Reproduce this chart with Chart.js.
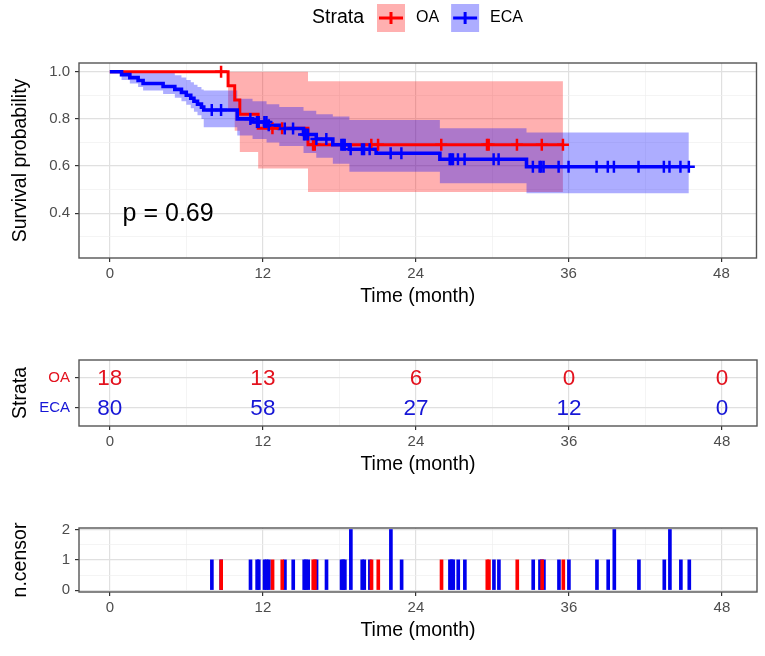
<!DOCTYPE html>
<html>
<head>
<meta charset="utf-8">
<script src="https://cdn.jsdelivr.net/npm/chart.js@4.4.1/dist/chart.umd.min.js"></script>
<style>
  body { margin: 0; background: #fff; }
  canvas { display: block; }
</style>
</head>
<body>
<canvas id="surv" width="765" height="310"></canvas>
<canvas id="risk" width="765" height="170"></canvas>
<canvas id="censor" width="765" height="176"></canvas>
<script>
// ---- data ----
const strataNames = ['OA', 'ECA'];

// OA survival step curve with confidence band
const oaTime  = [0, 9.28, 9.8, 10.2, 11.64, 15.55, 35.56];
const oaSurv  = [1.0, 0.94, 0.88, 0.82, 0.76, 0.69, 0.69];
const oaLower = [1.0, 0.83, 0.75, 0.66, 0.59, 0.49, 0.49];
const oaUpper = [1.0, 1.0, 1.0, 1.0, 1.0, 0.96, 0.96];

// ECA survival step curve with confidence band
const ecaTime  = [0, 0.92, 1.57, 2.22, 2.61, 4.18, 5.1, 5.62, 6.0, 6.35, 6.6, 6.88, 7.19, 7.37,
                  10.0, 11.2, 12.3, 13.3, 15.2, 16.2, 17.5, 18.8, 20.9, 25.9, 32.7, 45.44];
const ecaSurv  = [1.0, 0.9875, 0.975, 0.9625, 0.95, 0.9375, 0.925, 0.9125, 0.9, 0.8875, 0.875, 0.8625, 0.85, 0.8375,
                  0.80, 0.787, 0.773, 0.759, 0.734, 0.715, 0.69, 0.671, 0.654, 0.629, 0.597, 0.597];
const ecaLower = [1.0, 0.965, 0.95, 0.935, 0.92, 0.905, 0.89, 0.875, 0.86, 0.845, 0.83, 0.815, 0.80, 0.765,
                  0.73, 0.715, 0.70, 0.685, 0.655, 0.635, 0.61, 0.576, 0.576, 0.527, 0.485, 0.485];
const ecaUpper = [1.0, 1.0, 1.0, 1.0, 1.0, 0.995, 0.985, 0.975, 0.965, 0.955, 0.945, 0.935, 0.925, 0.92,
                  0.885, 0.875, 0.862, 0.85, 0.835, 0.82, 0.81, 0.795, 0.795, 0.76, 0.742, 0.742];

// censoring times and counts
const oaCensorTime = [8.73, 12.76, 13.52, 15.95, 16.08, 20.52, 21.05, 26.01, 29.6, 29.73, 31.95, 33.9, 35.56];
const oaCensorN    = [1, 1, 1, 1, 1, 1, 1, 1, 1, 1, 1, 1, 1];
const ecaCensorTime = [8.0, 8.73, 11.03, 11.55, 11.68, 12.13, 12.29, 12.47, 13.73, 14.38, 15.24, 15.37, 15.55,
                       16.21, 16.99, 18.17, 18.3, 18.43, 18.9, 19.79, 19.95, 20.39, 22.04, 22.88, 26.67, 26.8,
                       26.93, 27.32, 27.84, 30.12, 30.51, 33.2, 33.73, 33.86, 34.04, 35.22, 36.0, 38.2, 39.08,
                       39.56, 41.49, 43.48, 43.92, 44.78, 45.44];
const ecaCensorN    = [1, 1, 1, 1, 1, 1, 1, 1, 1, 1, 1, 1, 1,
                       1, 1, 1, 1, 1, 2, 1, 1, 1, 2, 1, 1, 1,
                       1, 1, 1, 1, 1, 1, 1, 1, 1, 1, 1, 1, 1,
                       2, 1, 1, 2, 1, 1];

// number at risk
const riskTimes = [0, 12, 24, 36, 48];
const oaRisk  = [18, 13, 6, 0, 0];
const ecaRisk = [80, 58, 27, 12, 0];

// ticks
const timeTicks = [0, 12, 24, 36, 48];
const timeMinor = [6, 18, 30, 42];
const survTicks = [0.4, 0.6, 0.8, 1.0];
const survTickLabels = ['0.4', '0.6', '0.8', '1.0'];
const survMinor = [0.3, 0.5, 0.7, 0.9];
const censorTicks = [0, 1, 2];
const censorMinor = [0.5, 1.5];

const pLabel = 'p = 0.69';

// ---- styling ----
const FONT = '"Liberation Sans", Arial, sans-serif';
Chart.defaults.font.family = FONT;
const RED = '#FF0000', BLUE = '#0000FF';
const RED_FILL = 'rgba(255,0,0,0.31)', BLUE_FILL = 'rgba(0,0,255,0.32)';
const RED_TEXT = '#E3121E', BLUE_TEXT = '#1616D6';

function stepValue(times, vals, t) {
    let v = vals[0];
    for (let i = 0; i < times.length; i++) if (times[i] <= t) v = vals[i];
    return v;
}
const pts = (xs, ys) => xs.map((x, i) => ({x: x, y: ys[i]}));

function gridOpts(major) {
    return {
        color: c => major.includes(c.tick.value) ? '#E0E0E0' : '#EFEFEF',
        lineWidth: c => major.includes(c.tick.value) ? 1.2 : 0.7,
        tickColor: c => major.includes(c.tick.value) ? '#333' : 'rgba(0,0,0,0)',
        tickLength: 4
    };
}

function timeAxis(height, titlePad) {
    return {
        type: 'linear', min: -2.42, max: 50.75, offset: false,
        afterBuildTicks: s => { s.ticks = timeTicks.concat(timeMinor).sort((a, b) => a - b).map(v => ({value: v})); },
        afterFit: s => { s.height = height; },
        grid: Object.assign({offset: false}, gridOpts(timeTicks)),
        border: {display: false},
        ticks: {
            font: {size: 15}, color: '#4D4D4D', padding: 3, maxRotation: 0, autoSkip: false,
            callback: v => timeTicks.includes(v) ? String(v) : ''
        },
        title: {display: true, text: 'Time (month)', color: '#000', font: {size: 19.5}, padding: {top: 0, bottom: titlePad}}
    };
}

function leftAxis(title, min, max, major, minor, labelFn, colorFn) {
    return {
        type: 'linear', min: min, max: max,
        afterBuildTicks: s => { s.ticks = major.concat(minor).sort((a, b) => a - b).map(v => ({value: v})); },
        afterFit: s => { s.width = 79; },
        grid: gridOpts(major),
        border: {display: false},
        ticks: {font: {size: 15}, color: colorFn || '#4D4D4D', padding: 5, autoSkip: false, callback: labelFn},
        title: {display: true, text: title, color: '#000', font: {size: 19.5}, padding: {top: 9, bottom: 0}}
    };
}

function drawBorder(chart) {
    const {ctx, chartArea: a} = chart;
    ctx.save();
    ctx.strokeStyle = '#555';
    ctx.lineWidth = 1.4;
    ctx.strokeRect(a.left, a.top, a.right - a.left, a.bottom - a.top);
    ctx.restore();
}

function drawPanelTitle(chart, text, y) {
    const ctx = chart.ctx;
    ctx.save();
    ctx.fillStyle = '#000';
    ctx.font = '23.5px ' + FONT;
    ctx.textAlign = 'left';
    ctx.textBaseline = 'middle';
    ctx.fillText(text, chart.chartArea.left, y);
    ctx.restore();
}

const commonOpts = {
    responsive: false, animation: false, events: [],
    plugins: {legend: {display: false}, tooltip: {enabled: false}}
};

// ---- survival curves ----
const survDecor = {
    id: 'survDecor',
    afterDraw(chart) {
        drawBorder(chart);
        const {ctx, scales} = chart;
        ctx.save();
        ctx.fillStyle = '#000';
        ctx.font = '25px ' + FONT;
        ctx.textAlign = 'left';
        ctx.textBaseline = 'middle';
        ctx.fillText(pLabel, scales.x.getPixelForValue(1.0), scales.y.getPixelForValue(0.395));

        // legend
        ctx.font = '19.5px ' + FONT;
        ctx.fillText('Strata', 312, 18);
        const lines = [RED, BLUE], fills = [RED_FILL, BLUE_FILL];
        let x = 377;
        ctx.font = '16px ' + FONT;
        strataNames.forEach((name, i) => {
            ctx.fillStyle = fills[i];
            ctx.fillRect(x, 4, 28, 28);
            ctx.strokeStyle = lines[i];
            ctx.lineWidth = 3;
            ctx.beginPath();
            ctx.moveTo(x + 2, 18); ctx.lineTo(x + 26, 18);
            ctx.moveTo(x + 14, 12); ctx.lineTo(x + 14, 24);
            ctx.stroke();
            ctx.fillStyle = '#000';
            ctx.fillText(name, x + 39, 18);
            x += 39 + ctx.measureText(name).width + 12;
        });
        ctx.restore();
    }
};

const bandLine = {type: 'line', stepped: true, borderWidth: 0, pointRadius: 0, fill: false};

new Chart(document.getElementById('surv'), {
    type: 'line',
    data: {
        datasets: [
            Object.assign({}, bandLine, {data: pts(oaTime, oaLower), order: 7}),
            Object.assign({}, bandLine, {data: pts(oaTime, oaUpper), order: 6, fill: {target: 0}, backgroundColor: RED_FILL}),
            Object.assign({}, bandLine, {data: pts(ecaTime, ecaLower), order: 5}),
            Object.assign({}, bandLine, {data: pts(ecaTime, ecaUpper), order: 4, fill: {target: 2}, backgroundColor: BLUE_FILL}),
            {label: 'OA', data: pts(oaTime, oaSurv), stepped: true, borderColor: RED, borderWidth: 3, pointRadius: 0, order: 3},
            {label: 'ECA', data: pts(ecaTime, ecaSurv), stepped: true, borderColor: BLUE, borderWidth: 3.6, pointRadius: 0, order: 2},
            {data: oaCensorTime.map(t => ({x: t, y: stepValue(oaTime, oaSurv, t)})), showLine: false,
             pointStyle: 'cross', pointRadius: 6, pointBorderWidth: 2.5, pointBorderColor: RED, order: 1},
            {data: ecaCensorTime.map(t => ({x: t, y: stepValue(ecaTime, ecaSurv, t)})), showLine: false,
             pointStyle: 'cross', pointRadius: 6, pointBorderWidth: 2.5, pointBorderColor: BLUE, order: 0}
        ]
    },
    options: Object.assign({}, commonOpts, {
        layout: {padding: {top: 63, right: 8, left: 0, bottom: 0}},
        scales: {
            x: timeAxis(52, 1.3),
            y: leftAxis('Survival probability', 0.21, 1.037, survTicks, survMinor,
                v => { const i = survTicks.indexOf(v); return i >= 0 ? survTickLabels[i] : ''; })
        }
    }),
    plugins: [survDecor]
});

// ---- number at risk ----
const rowOf = {OA: 2, ECA: 1};
const riskDecor = {
    id: 'riskDecor',
    afterDraw(chart) {
        drawBorder(chart);
        drawPanelTitle(chart, 'Number at risk', 336);
        const ctx = chart.ctx;
        const counts = [oaRisk, ecaRisk], colors = [RED_TEXT, BLUE_TEXT];
        ctx.save();
        ctx.font = '22.5px ' + FONT;
        ctx.textAlign = 'center';
        ctx.textBaseline = 'middle';
        counts.forEach((vals, d) => {
            ctx.fillStyle = colors[d];
            chart.getDatasetMeta(d).data.forEach((p, i) => ctx.fillText(String(vals[i]), p.x, p.y + 1));
        });
        ctx.restore();
    }
};

new Chart(document.getElementById('risk'), {
    type: 'scatter',
    data: {
        datasets: [
            {data: riskTimes.map(t => ({x: t, y: rowOf.OA})), pointRadius: 0},
            {data: riskTimes.map(t => ({x: t, y: rowOf.ECA})), pointRadius: 0}
        ]
    },
    options: Object.assign({}, commonOpts, {
        layout: {padding: {top: 50, right: 8, left: 0, bottom: 0}},
        scales: {
            x: timeAxis(54, 3.3),
            y: leftAxis('Strata', 0.4, 2.6, [1, 2], [],
                v => v === rowOf.OA ? 'OA' : 'ECA',
                c => c.tick.value === rowOf.OA ? RED_TEXT : BLUE_TEXT)
        }
    }),
    plugins: [riskDecor]
});

// ---- number of censoring ----
const censorDecor = {
    id: 'censorDecor',
    afterDraw(chart) {
        drawBorder(chart);
        drawPanelTitle(chart, 'Number of censoring', 503);
    }
};

new Chart(document.getElementById('censor'), {
    type: 'bar',
    data: {
        datasets: [
            {data: pts(ecaCensorTime, ecaCensorN), backgroundColor: '#0000EE', barThickness: 3, grouped: false, order: 1},
            {data: pts(oaCensorTime, oaCensorN), backgroundColor: RED, barThickness: 3, grouped: false, order: 0}
        ]
    },
    options: Object.assign({}, commonOpts, {
        layout: {padding: {top: 48, right: 8, left: 0, bottom: 0}},
        scales: {
            x: timeAxis(64, 13.3),
            y: leftAxis('n.censor', -0.06, 2.05, censorTicks, censorMinor,
                v => censorTicks.includes(v) ? String(v) : '')
        }
    }),
    plugins: [censorDecor]
});
</script>
</body>
</html>
